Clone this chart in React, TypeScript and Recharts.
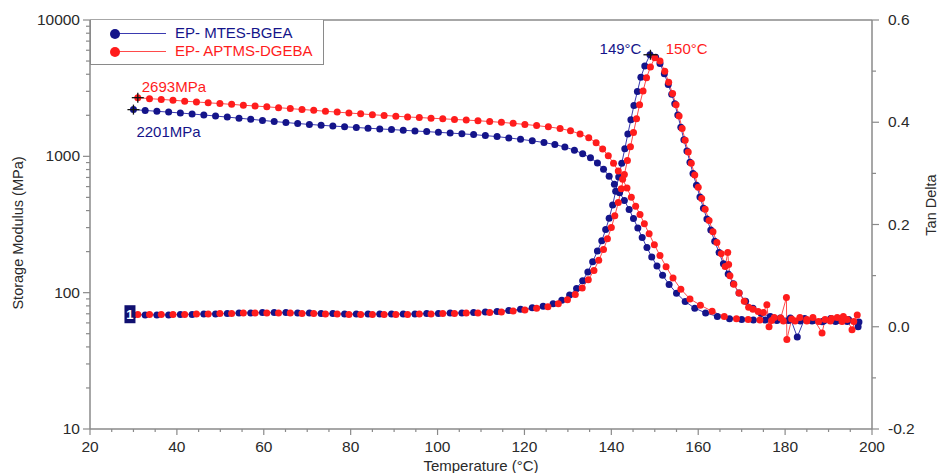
import React from 'react'
import { LineChart, Line, XAxis, YAxis, ReferenceDot, ReferenceLine } from 'recharts'

type Pt = [number, number]

// storage modulus, MPa (temperature °C, value)
const blueModulus: Pt[] = [
  [30, 2201], [32.7, 2170], [35.4, 2140], [38.1, 2110], [40.8, 2080], [43.5, 2045], [46.2, 2010], [48.9, 1975],
  [51.6, 1940], [54.3, 1905], [57, 1870], [59.7, 1835], [62.4, 1800], [65.1, 1770], [67.8, 1740], [70.5, 1715],
  [73.2, 1690], [75.9, 1668], [78.6, 1648], [81.3, 1628], [84, 1608], [86.7, 1590], [89.4, 1572], [92.1, 1553],
  [94.8, 1535], [97.5, 1518], [100.2, 1500], [102.9, 1482], [105.6, 1463], [108.3, 1443], [111, 1420], [113.7, 1395],
  [116.4, 1365], [119.1, 1333], [121.8, 1300], [124.5, 1263], [127, 1220], [129.3, 1170], [131.5, 1110], [133.4, 1045],
  [135.2, 975], [136.8, 895], [138.2, 805], [139.5, 715], [140.7, 625], [141.9, 540], [143, 475], [144.1, 408],
  [145.1, 350], [146.1, 298], [147.1, 254], [148.2, 214], [149.3, 183], [150.5, 157], [151.8, 134], [153.3, 115],
  [155, 99], [157, 86], [159.2, 77], [161.7, 71], [164.4, 67], [167.2, 64.5], [170, 63.5], [172.7, 63],
  [175.4, 63], [178.1, 62.5], [180.8, 62.5], [183.5, 62], [186.2, 62], [188.9, 62], [191.6, 61.5], [194.3, 61.5], [197, 61],
]

const redModulus: Pt[] = [
  [31, 2693], [33.7, 2650], [36.4, 2615], [39.1, 2580], [41.8, 2540], [44.5, 2505], [47.2, 2470], [49.9, 2440],
  [52.6, 2405], [55.3, 2370], [58, 2340], [60.7, 2307], [63.4, 2275], [66.1, 2240], [68.8, 2205], [71.5, 2175],
  [74.2, 2140], [76.9, 2110], [79.6, 2080], [82.3, 2050], [85, 2020], [87.7, 1995], [90.4, 1970], [93.1, 1945],
  [95.8, 1925], [98.5, 1905], [101.2, 1885], [103.9, 1865], [106.6, 1845], [109.3, 1825], [112, 1800], [114.7, 1775],
  [117.4, 1745], [120.1, 1715], [122.8, 1680], [125.5, 1645], [128.2, 1600], [130.6, 1540], [132.8, 1460], [134.8, 1370],
  [136.5, 1260], [138, 1130], [139.3, 1010], [140.5, 890], [141.6, 780], [142.6, 680], [143.6, 585], [144.6, 500],
  [145.6, 430], [146.6, 375], [147.6, 320], [148.7, 270], [149.9, 225], [151.2, 187], [152.6, 155], [154.2, 128],
  [156, 106], [158.1, 90], [160.5, 81], [163.2, 73], [166, 67], [168.8, 64.5], [171.5, 63.5], [174.2, 63],
  [176.9, 62.5], [179.6, 62], [182.3, 62], [185, 62], [187.7, 61.5], [190.4, 62], [193.1, 61.5], [195.8, 61.5],
]

// tan delta
const blueTanDelta: Pt[] = [
  [30, 0.023], [32.7, 0.023], [35.4, 0.023], [38.1, 0.023], [40.8, 0.024], [43.5, 0.024], [46.2, 0.025], [48.9, 0.025],
  [51.6, 0.026], [54.3, 0.027], [57, 0.027], [59.7, 0.028], [62.4, 0.028], [65.1, 0.028], [67.8, 0.027], [70.5, 0.027],
  [73.2, 0.026], [75.9, 0.026], [78.6, 0.025], [81.3, 0.025], [84, 0.025], [86.7, 0.025], [89.4, 0.025], [92.1, 0.025],
  [94.8, 0.025], [97.5, 0.026], [100.2, 0.026], [102.9, 0.027], [105.6, 0.027], [108.3, 0.028], [111, 0.029], [113.7, 0.03],
  [116.4, 0.032], [119.1, 0.034], [121.8, 0.037], [124.3, 0.04], [126.6, 0.045], [128.6, 0.052], [130.4, 0.062], [132, 0.075],
  [133.4, 0.09], [134.6, 0.107], [135.7, 0.127], [136.8, 0.148], [137.8, 0.168], [138.7, 0.19], [139.5, 0.212], [140.3, 0.238],
  [141, 0.265], [141.7, 0.293], [142.4, 0.32], [143.1, 0.348], [143.8, 0.377], [144.5, 0.405], [145.2, 0.433], [146, 0.46],
  [146.8, 0.488], [147.7, 0.51], [148.9, 0.532], [150.2, 0.527], [151.2, 0.515], [152.2, 0.495], [153.1, 0.474], [153.9, 0.455],
  [154.6, 0.436], [155.3, 0.414], [156, 0.39], [156.7, 0.366], [157.4, 0.344], [158.1, 0.322], [158.8, 0.3], [159.6, 0.277],
  [160.4, 0.254], [161.2, 0.232], [162, 0.211], [162.9, 0.189], [163.8, 0.167], [164.8, 0.145], [165.8, 0.123], [166.9, 0.103],
  [168.1, 0.084], [169.4, 0.066], [170.9, 0.05], [172.6, 0.036], [174.5, 0.026], [176.6, 0.02], [178.9, 0.017], [181.2, 0.017],
  [182.8, -0.02], [184.5, 0.016], [186.5, 0.012], [188.5, 0.01], [190.5, 0.016], [192.5, 0.012], [194.6, 0.014], [196.8, 0],
]

const redTanDelta: Pt[] = [
  [31, 0.024], [33.7, 0.024], [36.4, 0.024], [39.1, 0.024], [41.8, 0.024], [44.5, 0.025], [47.2, 0.025], [49.9, 0.026],
  [52.6, 0.026], [55.3, 0.027], [58, 0.027], [60.7, 0.027], [63.4, 0.027], [66.1, 0.027], [68.8, 0.026], [71.5, 0.026],
  [74.2, 0.025], [76.9, 0.025], [79.6, 0.024], [82.3, 0.024], [85, 0.024], [87.7, 0.024], [90.4, 0.024], [93.1, 0.024],
  [95.8, 0.025], [98.5, 0.025], [101.2, 0.026], [103.9, 0.026], [106.6, 0.027], [109.3, 0.027], [112, 0.028], [114.7, 0.029],
  [117.4, 0.031], [120.1, 0.033], [122.8, 0.036], [125.4, 0.039], [127.8, 0.045], [129.9, 0.053], [131.7, 0.063], [133.3, 0.076],
  [134.7, 0.092], [136, 0.11], [137.1, 0.13], [138.2, 0.151], [139.1, 0.172], [140, 0.194], [140.8, 0.217], [141.6, 0.243],
  [142.3, 0.27], [143, 0.298], [143.7, 0.325], [144.4, 0.352], [145.1, 0.38], [145.8, 0.407], [146.5, 0.434], [147.3, 0.461],
  [148.1, 0.487], [149, 0.508], [150, 0.526], [151.2, 0.52], [152.3, 0.5], [153.2, 0.478], [154.1, 0.456], [154.9, 0.434],
  [155.6, 0.412], [156.3, 0.388], [157, 0.365], [157.7, 0.342], [158.4, 0.32], [159.2, 0.297], [160, 0.273], [160.8, 0.251],
  [161.6, 0.23], [162.5, 0.208], [163.4, 0.186], [164.3, 0.165], [165.3, 0.143], [166.2, 0.118], [166.8, 0.145], [167, 0.122],
  [167.3, 0.1], [168.2, 0.083], [169.4, 0.066], [170.6, 0.05], [171.6, 0.038], [172.6, 0.034], [173.8, 0.03], [175, 0.028],
  [175.8, 0.043], [176.3, 0], [177.5, 0.018], [179, 0.017], [180.3, 0.057], [180.4, -0.025], [181.5, 0.015], [183.4, 0.018],
  [185, 0.014], [186.4, 0.018], [188.5, -0.012], [189.2, 0.014], [190.7, 0.016], [192, 0.018], [193.4, 0.02], [194.3, 0.014],
  [195.4, -0.006], [196.6, 0.023],
]

const xTicks = [20, 25, 30, 35, 40, 45, 50, 55, 60, 65, 70, 75, 80, 85, 90, 95, 100, 105, 110, 115, 120, 125, 130, 135, 140, 145, 150, 155, 160, 165, 170, 175, 180, 185, 190, 195, 200]
const modTicks = [10, 20, 30, 40, 50, 60, 70, 80, 90, 100, 200, 300, 400, 500, 600, 700, 800, 900, 1000, 2000, 3000, 4000, 5000, 6000, 7000, 8000, 9000, 10000]
const modLabels = [10, 100, 1000, 10000]
const tanTicks = [-0.2, -0.1, 0, 0.1, 0.2, 0.3, 0.4, 0.5, 0.6]

// annotations
const blueOnset = { t: 30, v: 2201, text: '2201MPa' }
const redOnset = { t: 31, v: 2693, text: '2693MPa' }
const bluePeak = { t: 149, v: 0.532, text: '149°C' }
const redPeak = { t: 150, v: 0.526, text: '150°C' }

const BLUE = '#14148a'
const BLUE_LINE = '#3a3ab0'
const RED = '#ff1c1c'
const RED_LINE = '#ff4a4a'
const AXIS = '#8a8a8a'
const TXT = '#2a2a2a'
const FONT = '"Liberation Sans", Arial, sans-serif'

const rows = (pts: Pt[]) => pts.map(([t, v]) => ({ t, v }))

function XTick({ x, y, payload }: any) {
  const major = payload.value % 20 === 0
  return (
    <g>
      <line x1={x} x2={x} y1={y} y2={y + (major ? 6 : 3)} stroke={AXIS} strokeWidth={1.2} />
      {major && (
        <text x={x} y={y + 23} textAnchor="middle" fontSize={15.5} fill={TXT}>{payload.value}</text>
      )}
    </g>
  )
}

function ModTick({ x, y, payload }: any) {
  const major = modLabels.includes(payload.value)
  return (
    <g>
      <line x1={x - (major ? 7 : 4)} x2={x} y1={y} y2={y} stroke={AXIS} strokeWidth={1.2} />
      {major && (
        <text x={x - 10} y={y + 5} textAnchor="end" fontSize={15.5} fill={TXT}>{payload.value}</text>
      )}
    </g>
  )
}

function TanTick({ x, y, payload }: any) {
  const major = Math.round(payload.value * 10) % 2 === 0
  return (
    <g>
      <line x1={x} x2={x + (major ? 7 : 4)} y1={y} y2={y} stroke={AXIS} strokeWidth={1.2} />
      {major && (
        <text x={x + 16} y={y + 5} textAnchor="start" fontSize={15.5} fill={TXT}>{payload.value.toFixed(1)}</text>
      )}
    </g>
  )
}

const cross = (cx: number, cy: number, w: number) => (
  <g stroke="#111" strokeWidth={1.3}>
    <line x1={cx - w} x2={cx + w} y1={cy} y2={cy} />
    <line x1={cx} x2={cx} y1={cy - 5} y2={cy + 5} />
  </g>
)

export default function App() {
  return (
    <div style={{ position: 'absolute', left: 0, top: 0, width: 940, height: 473, fontFamily: FONT, background: '#fff' }}>
      <LineChart width={940} height={473} margin={{ top: 20, right: 20, bottom: 14, left: 30 }}>
        <XAxis
          xAxisId="x" dataKey="t" type="number" domain={[20, 200]} ticks={xTicks} interval={0}
          allowDataOverflow height={30} tickSize={0} tickMargin={0} tickLine={false}
          axisLine={{ stroke: AXIS, strokeWidth: 1.5 }} tick={<XTick />}
        />
        <YAxis
          yAxisId="mod" scale="log" domain={[10, 10000]} ticks={modTicks} interval={0} allowDataOverflow
          width={60} tickSize={0} tickMargin={0} tickLine={false}
          axisLine={{ stroke: AXIS, strokeWidth: 1.5 }} tick={<ModTick />}
        />
        <YAxis
          yAxisId="tan" orientation="right" type="number" domain={[-0.2, 0.6]} ticks={tanTicks} interval={0}
          allowDataOverflow width={48} tickSize={0} tickMargin={0} tickLine={false}
          axisLine={{ stroke: AXIS, strokeWidth: 1.5 }} tick={<TanTick />}
        />
        <ReferenceLine xAxisId="x" yAxisId="mod" y={10000} stroke={AXIS} strokeWidth={1.5} />

        <Line data={rows(blueModulus)} dataKey="v" xAxisId="x" yAxisId="mod" stroke={BLUE_LINE} strokeWidth={1}
          dot={{ r: 3.5, fill: BLUE, stroke: 'none' }} isAnimationActive={false} />
        <Line data={rows(blueTanDelta)} dataKey="v" xAxisId="x" yAxisId="tan" stroke={BLUE_LINE} strokeWidth={1}
          dot={{ r: 3.5, fill: BLUE, stroke: 'none' }} isAnimationActive={false} />
        <Line data={rows(redModulus)} dataKey="v" xAxisId="x" yAxisId="mod" stroke={RED_LINE} strokeWidth={1}
          dot={{ r: 3.5, fill: RED, stroke: 'none' }} isAnimationActive={false} />
        <Line data={rows(redTanDelta)} dataKey="v" xAxisId="x" yAxisId="tan" stroke={RED_LINE} strokeWidth={1}
          dot={{ r: 3.5, fill: RED, stroke: 'none' }} isAnimationActive={false} />

        <ReferenceDot xAxisId="x" yAxisId="mod" x={redOnset.t} y={redOnset.v}
          shape={({ cx, cy }: any) => (
            <g>
              {cross(cx, cy, 6)}
              <text x={cx + 4} y={cy - 6} fontSize={15} fill={RED}>{redOnset.text}</text>
            </g>
          )} />
        <ReferenceDot xAxisId="x" yAxisId="mod" x={blueOnset.t} y={blueOnset.v}
          shape={({ cx, cy }: any) => (
            <g>
              {cross(cx, cy, 6)}
              <text x={cx + 3} y={cy + 27} fontSize={15} fill={BLUE}>{blueOnset.text}</text>
            </g>
          )} />
        <ReferenceDot xAxisId="x" yAxisId="tan" x={bluePeak.t} y={bluePeak.v}
          shape={({ cx, cy }: any) => (
            <g>
              {cross(cx, cy, 7)}
              <text x={cx - 9} y={cy - 1} textAnchor="end" fontSize={15} fill={BLUE}>{bluePeak.text}</text>
            </g>
          )} />
        <ReferenceDot xAxisId="x" yAxisId="tan" x={redPeak.t} y={redPeak.v}
          shape={({ cx, cy }: any) => (
            <text x={cx + 11} y={cy - 4} fontSize={15} fill={RED}>{redPeak.text}</text>
          )} />
        <ReferenceDot xAxisId="x" yAxisId="tan" x={29.2} y={0.0245}
          shape={({ cx, cy }: any) => (
            <g>
              <rect x={cx - 5.5} y={cy - 9} width={11} height={18} fill="#101070" />
              <text x={cx} y={cy + 5} textAnchor="middle" fontSize={13} fontWeight="bold" fill="#fff">1</text>
            </g>
          )} />
      </LineChart>

      {/* legend */}
      <div style={{ position: 'absolute', left: 90, top: 20, width: 234, height: 45, border: `1px solid ${AXIS}`, borderTop: 'none', boxSizing: 'border-box', background: '#fff' }}>
        {[{ name: 'EP- MTES-BGEA', c: BLUE, l: BLUE_LINE, top: 5 }, { name: 'EP- APTMS-DGEBA', c: RED, l: RED_LINE, top: 23 }].map((s) => (
          <div key={s.name} style={{ position: 'absolute', left: 0, top: s.top, height: 17, width: 234 }}>
            <div style={{ position: 'absolute', left: 24, top: 8, width: 51, height: 1.3, background: s.l }} />
            <div style={{ position: 'absolute', left: 19, top: 4, width: 10, height: 10, borderRadius: '50%', background: s.c }} />
            <span style={{ position: 'absolute', left: 84, top: -1, fontSize: 15, color: s.c, whiteSpace: 'nowrap' }}>{s.name}</span>
          </div>
        ))}
      </div>

      <div style={{ position: 'absolute', left: 18, top: 233, transform: 'translate(-50%, -50%) rotate(-90deg)', fontSize: 14.5, color: TXT, whiteSpace: 'nowrap' }}>
        Storage Modulus (MPa)
      </div>
      <div style={{ position: 'absolute', left: 931, top: 205, transform: 'translate(-50%, -50%) rotate(-90deg)', fontSize: 14.5, color: TXT, whiteSpace: 'nowrap' }}>
        Tan Delta
      </div>
      <div style={{ position: 'absolute', left: 481, top: 465, transform: 'translate(-50%, -50%)', fontSize: 15, color: TXT, whiteSpace: 'nowrap' }}>
        Temperature (°C)
      </div>
    </div>
  )
}
